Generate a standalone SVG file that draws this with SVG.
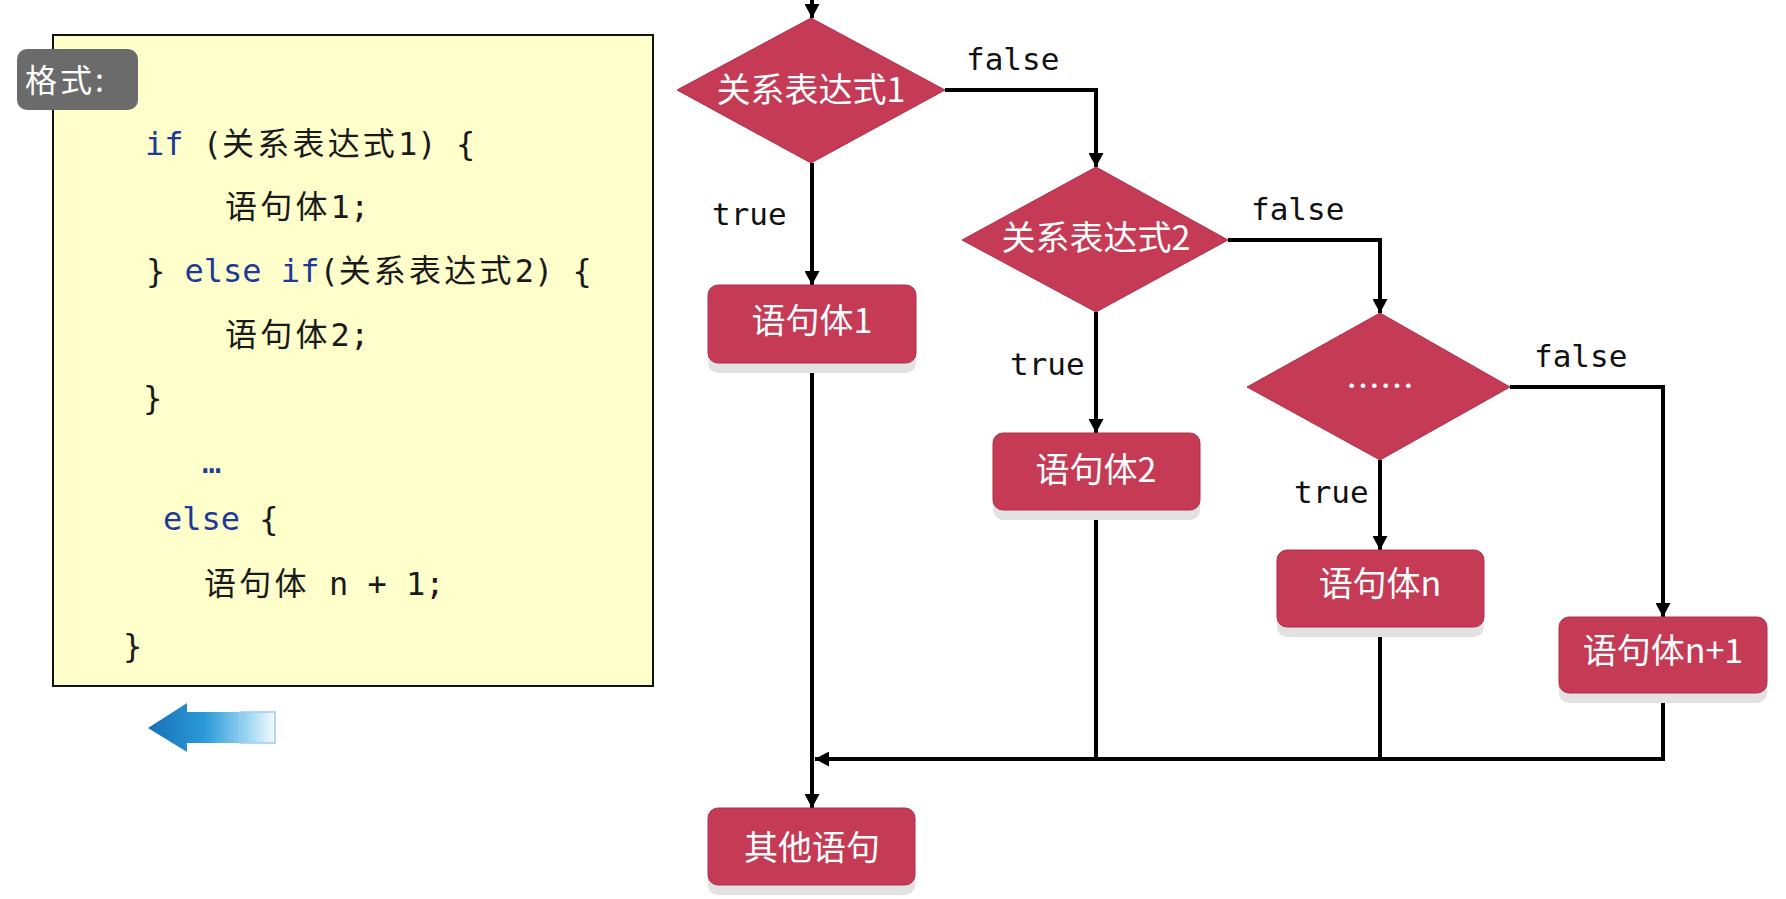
<svg xmlns="http://www.w3.org/2000/svg" width="1786" height="899" viewBox="0 0 1786 899">
  <style>
    .code { font-family: "DejaVu Sans Mono", "Noto Sans CJK SC", monospace; font-size: 32px; fill: #1a1a1a; }
    .kw { fill: #1d3a96; }
    .cjk { font-family: "Noto Sans CJK SC", sans-serif; letter-spacing: 3.2px; }
    .lbl { font-family: "DejaVu Sans Mono", monospace; font-size: 31px; fill: #111; }
    .node { fill: #C53A55; stroke: #B22F4B; stroke-width: 1; }
    .shadow { fill: #E2E2E2; }
    .ntext { font-family: "Noto Sans CJK SC", "Noto Sans", sans-serif; font-size: 34px; font-weight: 400; fill: #ffffff; text-anchor: middle; }
    .conn { fill: none; stroke: #000; stroke-width: 4; }
  </style>
  <defs>
    <marker id="arr" markerUnits="userSpaceOnUse" markerWidth="15" markerHeight="15" refX="14" refY="7.5" orient="auto">
      <path d="M0,0 L14,7.5 L0,15 z" fill="#000"/>
    </marker>
    <linearGradient id="blueArrow" x1="0" y1="0" x2="1" y2="0">
      <stop offset="0" stop-color="#1670B5"/>
      <stop offset="0.45" stop-color="#2C9AD8"/>
      <stop offset="0.75" stop-color="#8FD0EF"/>
      <stop offset="1" stop-color="#F4FBFF"/>
    </linearGradient>
  </defs>
  <rect width="1786" height="899" fill="#ffffff"/>

  <!-- Code panel -->
  <g id="code-panel">
    <rect x="53" y="35" width="600" height="651" fill="#FFFFCC" stroke="#111" stroke-width="2"/>
    <text class="code" x="145" y="155"><tspan class="kw">if</tspan> (<tspan class="cjk">关系表达式</tspan>1) {</text>
    <text class="code" x="225" y="218"><tspan class="cjk">语句体</tspan>1;</text>
    <text class="code" x="146" y="282">} <tspan class="kw">else</tspan> <tspan class="kw">if</tspan>(<tspan class="cjk">关系表达式</tspan>2) {</text>
    <text class="code" x="225" y="346"><tspan class="cjk">语句体</tspan>2;</text>
    <text class="code" x="143" y="409">}</text>
    <text class="code kw" x="202" y="473">…</text>
    <text class="code" x="163" y="530"><tspan class="kw">else</tspan> {</text>
    <text class="code" x="204" y="595"><tspan class="cjk">语句体</tspan> n + 1;</text>
    <text class="code" x="123" y="657">}</text>
  </g>

  <g id="format-label">
    <rect x="17" y="49" width="121" height="61" rx="10" fill="#6B6B6B"/>
    <text x="25" y="92" font-family="Noto Sans CJK SC, sans-serif" font-size="32" letter-spacing="3" fill="#ffffff">格式:</text>
  </g>

  <g id="back-arrow">
    <path d="M148,728 L187,703 L187,712 L275,712 L275,743 L187,743 L187,752 Z" fill="url(#blueArrow)"/>
    <rect x="240" y="712" width="35" height="31" fill="none" stroke="#9CCDEB" stroke-width="1.5"/>
  </g>

  <!-- Connectors -->
  <g id="connectors">
    <path class="conn" d="M812,0 L812,18" marker-end="url(#arr)"/>
    <path class="conn" d="M812,163 L812,285" marker-end="url(#arr)"/>
    <path class="conn" d="M945,90 L1096,90 L1096,167" marker-end="url(#arr)"/>
    <path class="conn" d="M1096,312 L1096,433" marker-end="url(#arr)"/>
    <path class="conn" d="M1228,240 L1380,240 L1380,313" marker-end="url(#arr)"/>
    <path class="conn" d="M1380,460 L1380,550" marker-end="url(#arr)"/>
    <path class="conn" d="M1510,387 L1663,387 L1663,617" marker-end="url(#arr)"/>
    <path class="conn" d="M812,363 L812,808" marker-end="url(#arr)"/>
    <path class="conn" d="M1096,510 L1096,759"/>
    <path class="conn" d="M1380,627 L1380,759"/>
    <path class="conn" d="M1663,693 L1663,759 L815,759" stroke-width="5" marker-end="url(#arr)"/>
    <text class="lbl" x="712" y="225">true</text>
    <text class="lbl" x="966" y="70">false</text>
    <text class="lbl" x="1010" y="375">true</text>
    <text class="lbl" x="1251" y="220">false</text>
    <text class="lbl" x="1294" y="503">true</text>
    <text class="lbl" x="1534" y="367">false</text>
  </g>

  <!-- Nodes -->
  <g id="cond1">
    <polygon class="node" points="811,18 945,90 811,163 677,90"/>
    <text class="ntext" x="811" y="102">关系表达式1</text>
  </g>
  <g id="cond2">
    <polygon class="node" points="1096,167 1228,240 1096,312 962,240"/>
    <text class="ntext" x="1096" y="250">关系表达式2</text>
  </g>
  <g id="cond3">
    <polygon class="node" points="1380,313 1510,387 1380,460 1247,387"/>
    <text class="ntext" x="1380" y="399" font-size="28">……</text>
  </g>
  <g id="stmt1">
    <rect class="shadow" x="708" y="295" width="208" height="78" rx="10"/>
    <rect class="node" x="708" y="285" width="208" height="78" rx="10"/>
    <text class="ntext" x="812" y="333">语句体1</text>
  </g>
  <g id="stmt2">
    <rect class="shadow" x="993" y="443" width="207" height="77" rx="10"/>
    <rect class="node" x="993" y="433" width="207" height="77" rx="10"/>
    <text class="ntext" x="1096" y="482">语句体2</text>
  </g>
  <g id="stmtn">
    <rect class="shadow" x="1277" y="560" width="207" height="77" rx="10"/>
    <rect class="node" x="1277" y="550" width="207" height="77" rx="10"/>
    <text class="ntext" x="1380" y="596">语句体n</text>
  </g>
  <g id="stmtn1">
    <rect class="shadow" x="1559" y="627" width="208" height="76" rx="10"/>
    <rect class="node" x="1559" y="617" width="208" height="76" rx="10"/>
    <text class="ntext" x="1663" y="663">语句体n+1</text>
  </g>
  <g id="other">
    <rect class="shadow" x="708" y="818" width="207" height="77" rx="10"/>
    <rect class="node" x="708" y="808" width="207" height="77" rx="10"/>
    <text class="ntext" x="812" y="860">其他语句</text>
  </g>
</svg>
